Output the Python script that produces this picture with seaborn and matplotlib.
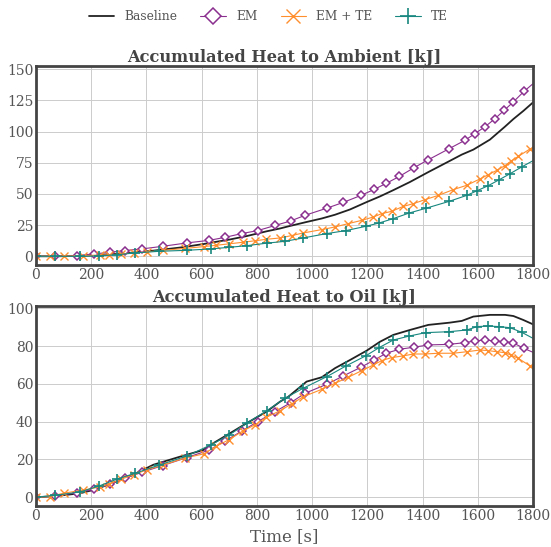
import numpy as np
import pandas as pd
import matplotlib
matplotlib.use("Agg")
import matplotlib.pyplot as plt
import seaborn as sns

# ---------------- data ----------------
series_names = ["Baseline", "EM", "EM + TE", "TE"]

t_base = [0, 75, 159, 208, 268, 353, 425, 522, 606, 642, 703, 763, 835, 884, 914, 980,
          1035, 1083, 1137, 1198, 1246, 1294, 1354, 1421, 1499, 1542, 1584, 1644, 1699,
          1729, 1765, 1800]
amb_base = [0, 0, 0.3, 0.8, 1.6, 3.0, 4.5, 7.0, 9.8, 11.2, 13.5, 16.2, 20.0, 22.3, 24.0,
            27.5, 30.3, 33.3, 37.5, 43.5, 48.0, 53.0, 59.5, 67.5, 76.5, 81.5, 85.5, 93.5,
            104.0, 110.0, 116.5, 123.3]
oil_base = [0, 0.7, 2.1, 3.9, 7.0, 12.0, 17.2, 21.5, 25.0, 28.6, 33.9, 39.2, 45.3, 50.6,
            53.2, 61.2, 63.5, 68.3, 72.6, 77.6, 82.3, 85.9, 88.5, 91.2, 92.4, 93.3, 95.6,
            96.5, 96.5, 95.9, 93.8, 91.5]

t_em = [0, 69, 147, 211, 268, 322, 383, 459, 546, 628, 685, 745, 803, 866, 922, 974, 1055,
        1113, 1177, 1225, 1268, 1316, 1369, 1421, 1496, 1553, 1589, 1626, 1662, 1695, 1727,
        1767, 1800]
amb_em = [0, 0, 0.5, 1.9, 3.2, 4.6, 5.9, 8.0, 10.7, 12.8, 15.2, 18.2, 20.6, 24.7, 28.3, 32.8,
          38.7, 43.2, 48.8, 53.6, 58.4, 64.0, 71.0, 77.4, 86.2, 92.9, 98.2, 103.8, 110.2,
          116.9, 123.3, 132.1, 138.3]
oil_em = [0, 0.7, 2.4, 4.2, 6.8, 10.0, 13.2, 16.8, 21.0, 25.0, 29.8, 35.0, 40.0, 45.3, 50.0,
          55.0, 59.9, 64.2, 68.8, 72.6, 76.2, 78.3, 79.4, 80.6, 80.9, 81.8, 82.7, 83.2, 82.7,
          82.3, 81.8, 78.8, 76.7]

t_emte = [0, 50, 101, 169, 232, 266, 307, 355, 401, 459, 540, 609, 652, 700, 748, 795, 834,
          884, 926, 968, 1035, 1083, 1131, 1180, 1222, 1252, 1288, 1330, 1367, 1409, 1457,
          1511, 1560, 1608, 1638, 1669, 1698, 1719, 1747, 1789, 1800]
amb_emte = [0, 0, 0.1, 0.5, 1.0, 1.3, 1.9, 2.6, 3.5, 4.8, 6.3, 7.8, 8.8, 10.0, 11.2, 12.5,
            13.6, 14.7, 16.6, 18.7, 21.4, 23.5, 26.2, 28.8, 31.5, 34.2, 36.0, 40.0, 42.2,
            45.4, 48.8, 53.4, 56.9, 62.0, 65.4, 68.9, 72.6, 76.1, 80.1, 86.0, 87.0]
oil_emte = [0, 0.4, 2.2, 3.7, 5.5, 7.0, 9.5, 12.0, 14.5, 17.0, 20.8, 23.0, 27.0, 30.5, 35.0,
            38.5, 42.3, 45.8, 49.4, 53.2, 57.1, 60.3, 63.5, 67.0, 70.0, 72.3, 73.9, 74.8,
            75.8, 75.8, 76.2, 76.2, 77.0, 77.9, 77.6, 77.0, 76.5, 75.3, 73.5, 69.5, 69.0]

t_te = [0, 69, 159, 229, 295, 359, 447, 546, 633, 700, 763, 835, 902, 968, 1053, 1123, 1194,
        1243, 1294, 1352, 1411, 1496, 1560, 1598, 1638, 1678, 1717, 1759, 1800]
amb_te = [0, 0, 0, 0.3, 1.3, 2.7, 4.0, 4.8, 5.9, 7.2, 8.5, 10.5, 12.0, 14.7, 18.2, 20.6, 24.0,
          26.7, 30.2, 34.7, 38.4, 44.0, 48.8, 52.6, 56.6, 61.4, 66.2, 71.6, 76.6]
oil_te = [0, 1.0, 2.8, 6.0, 9.7, 12.7, 17.1, 21.8, 27.7, 33.0, 39.2, 45.7, 52.4, 57.7, 63.8,
          69.5, 74.8, 79.2, 83.2, 85.3, 87.1, 87.6, 88.5, 90.3, 90.6, 90.3, 89.7, 87.3, 84.1]

titles = ["Accumulated Heat to Ambient [kJ]", "Accumulated Heat to Oil [kJ]"]
xlabel = "Time [s]"
amb_yticks = [0, 25, 50, 75, 100, 125, 150]
oil_yticks = [0, 20, 40, 60, 80, 100]
xticks = [0, 200, 400, 600, 800, 1000, 1200, 1400, 1600, 1800]

# ---------------- style ----------------
sns.set_theme(style="whitegrid")
plt.rcParams["font.family"] = ["DejaVu Serif"]
plt.rcParams["axes.unicode_minus"] = False

colors = {"Baseline": "#222222", "EM": "#8b2f8e", "EM + TE": "#ff8f2e", "TE": "#17877f"}
styles = {
    "Baseline": dict(marker=None, lw=1.3),
    "EM": dict(marker="D", ms=4.3, mfc="white", mew=1.1, lw=0.8),
    "EM + TE": dict(marker="x", ms=5.5, mew=1.0, lw=0.8),
    "TE": dict(marker="+", ms=6.5, mew=1.2, lw=0.8),
}

series_t = {"Baseline": t_base, "EM": t_em, "EM + TE": t_emte, "TE": t_te}
series_amb = {"Baseline": amb_base, "EM": amb_em, "EM + TE": amb_emte, "TE": amb_te}
series_oil = {"Baseline": oil_base, "EM": oil_em, "EM + TE": oil_emte, "TE": oil_te}

fig = plt.figure(figsize=(5.51, 5.47), dpi=100)
ax1 = fig.add_axes([0.0653, 0.5155, 0.9020, 0.3638])
ax2 = fig.add_axes([0.0653, 0.0750, 0.9020, 0.3656])

handles = []
for ax, data, title, yticks, ylim in [
    (ax1, series_amb, titles[0], amb_yticks, (-7, 152.5)),
    (ax2, series_oil, titles[1], oil_yticks, (-4.6, 101.2)),
]:
    for name in series_names:
        df = pd.DataFrame({"t": series_t[name], "v": data[name]})
        st = styles[name]
        kw = dict(color=colors[name], linewidth=st["lw"])
        if st["marker"] is not None:
            kw.update(marker=st["marker"], markersize=st["ms"], markeredgewidth=st["mew"],
                      markeredgecolor=colors[name], markevery=slice(0, len(df) - 1))
            if "mfc" in st:
                kw["markerfacecolor"] = st["mfc"]
        sns.lineplot(data=df, x="t", y="v", ax=ax, estimator=None, sort=False,
                     legend=False, **kw)
        if ax is ax1:
            handles.append(ax.lines[-1])
    ax.set_xlim(0, 1800)
    ax.set_ylim(*ylim)
    ax.set_xticks(xticks)
    ax.set_yticks(yticks)
    ax.set_title(title, fontsize=11.7, fontweight="bold", color="#444444", pad=3)
    ax.set_xlabel("")
    ax.set_ylabel("")
    ax.grid(True, color="#cccccc", linewidth=0.7)
    ax.tick_params(axis="both", labelsize=10, colors="#555555", length=0, pad=2)
    for sp in ax.spines.values():
        sp.set_color("#444444")
        sp.set_linewidth(2)

ax2.set_xlabel(xlabel, fontsize=12, color="#555555", labelpad=4)

fig.legend(handles, series_names, loc="center", bbox_to_anchor=(0.487, 0.969), ncol=4,
           frameon=False, fontsize=8.8, labelcolor="#555555", handlelength=2.1,
           columnspacing=1.9, handletextpad=0.8, markerscale=1.8)

fig.savefig("out.png", dpi=100)
